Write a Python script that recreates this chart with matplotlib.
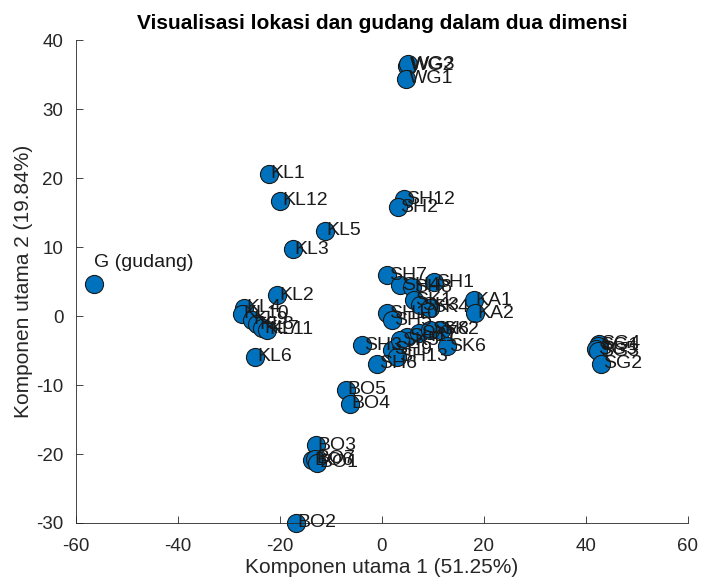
import matplotlib
matplotlib.use("Agg")
import matplotlib.pyplot as plt

plt.rcParams['font.family'] = ['Liberation Sans', 'DejaVu Sans']
plt.rcParams['axes.unicode_minus'] = False

# points (komponen utama 1, komponen utama 2)
gudang = (-56.5, 4.6)

kl_names = ["KL1", "KL12", "KL5", "KL3", "KL2", "KL4", "KL10", "KL9", "KL8", "KL7", "KL11", "KL6"]
kl_x = [-22.2, -20.0, -11.2, -17.5, -20.5, -27.0, -27.5, -25.5, -24.5, -23.5, -22.5, -24.8]
kl_y = [20.6, 16.7, 12.4, 9.7, 3.0, 1.2, 0.3, -0.5, -1.2, -1.8, -2.0, -5.9]

wg_names = ["WG2", "WG3", "WG1"]
wg_x = [5.0, 5.2, 4.8]
wg_y = [36.3, 36.5, 34.4]

sh_names = ["SH12", "SH2", "SH7", "SH4", "SH8", "SH1", "SH10", "SH5", "SH3", "SH9",
            "SH11", "SH6", "SH13"]
sh_x = [4.4, 3.2, 1.1, 3.6, 6.0, 10.3, 1.0, 2.0, -3.9, 2.0, 4.9, -0.9, 3.0]
sh_y = [16.9, 15.8, 5.9, 4.5, 4.2, 4.9, 0.4, -0.6, -4.2, -4.9, -3.0, -6.9, -5.9]

sk_names = ["SK1", "SK3", "SK4", "SK5", "SK2", "SK6", "SK7", "SK8"]
sk_x = [6.2, 7.5, 9.5, 3.6, 11.5, 12.8, 7.2, 9.5]
sk_y = [2.3, 1.6, 1.2, -3.5, -2.0, -4.4, -2.5, -2.0]

ka_names = ["KA1", "KA2"]
ka_x = [18.0, 18.3]
ka_y = [2.3, 0.4]

sg_names = ["SG4", "SG1", "SG5", "SG3", "SG2"]
sg_x = [42.6, 42.3, 42.0, 42.4, 43.0]
sg_y = [-4.0, -4.3, -4.8, -5.1, -6.9]

bo_names = ["BO5", "BO4", "BO3", "BO6", "BO7", "BO1", "BO2"]
bo_x = [-7.1, -6.3, -13.0, -13.7, -13.2, -12.7, -16.9]
bo_y = [-10.7, -12.7, -18.7, -20.9, -20.7, -21.3, -30.0]

names = kl_names + wg_names + sh_names + sk_names + ka_names + sg_names + bo_names
xs = kl_x + wg_x + sh_x + sk_x + ka_x + sg_x + bo_x
ys = kl_y + wg_y + sh_y + sk_y + ka_y + sg_y + bo_y

fig = plt.figure(figsize=(7.02, 5.82), dpi=100)
ax = fig.add_axes([0.108, 0.1014, 0.872, 0.8296])

axcol = "#262626"
ax.scatter(xs, ys, s=170, color="#0072BD", edgecolors="#1a1a1a", linewidths=0.8, zorder=2, clip_on=False)
ax.scatter([gudang[0]], [gudang[1]], s=170, color="#0072BD", edgecolors="#1a1a1a", linewidths=0.8, zorder=2)

for n, x, y in zip(names, xs, ys):
    ax.text(x + 0.4, y, n, fontsize=14, va="center", ha="left", color="#1a1a1a", zorder=3)
ax.text(gudang[0], gudang[1] + 3.2, "G (gudang)", fontsize=14, va="center", ha="left", color="#1a1a1a")

ax.set_xlim(-60, 60)
ax.set_ylim(-30, 40)
ax.set_xticks(range(-60, 61, 20))
ax.set_yticks(range(-30, 41, 10))

for side in ["top", "right"]:
    ax.spines[side].set_visible(False)
for side in ["left", "bottom"]:
    ax.spines[side].set_color(axcol)
    ax.spines[side].set_linewidth(0.6)
ax.tick_params(direction="in", length=5, width=0.6, colors=axcol, labelsize=13.5)
ax.tick_params(axis="x", pad=11)
ax.tick_params(axis="y", pad=9)

ax.set_xlabel("Komponen utama 1 (51.25%)", fontsize=15, color=axcol, labelpad=2)
ax.set_ylabel("Komponen utama 2 (19.84%)", fontsize=15, color=axcol, labelpad=2)
ax.set_title("Visualisasi lokasi dan gudang dalam dua dimensi", fontsize=15, fontweight="bold", pad=8)

fig.savefig("out.png", dpi=100)
